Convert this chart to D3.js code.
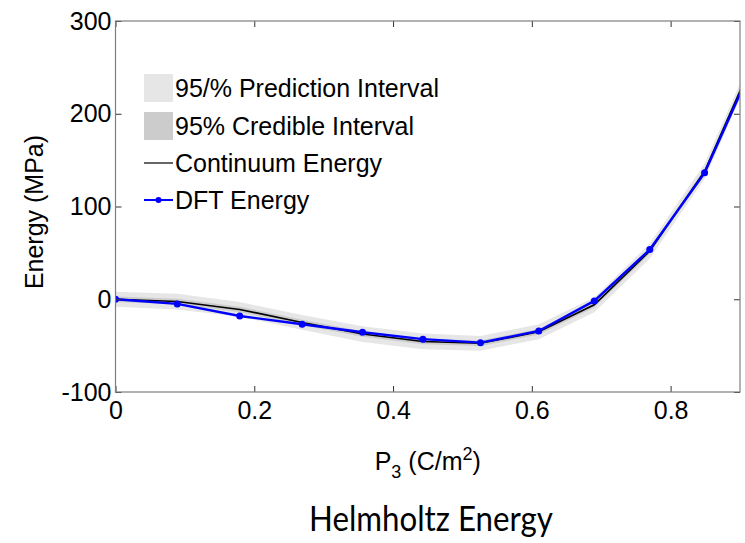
<!DOCTYPE html>
<html><head><meta charset="utf-8">
<script src="https://cdn.jsdelivr.net/npm/d3@7"></script>
<style>body{margin:0;background:#fff}svg{display:block}</style>
</head><body>
<svg id="chart" width="745" height="543"></svg>
<script>
const pVals = [0, 0.089, 0.179, 0.269, 0.356, 0.443, 0.526, 0.610, 0.690, 0.770, 0.849, 0.928];
const dftEnergy = [0, -5, -18, -27, -35.6, -43, -46.8, -34.2, -1.8, 53.6, 136.3, 268];
const continuumEnergy = [0, -2.5, -11, -25, -37.5, -45.5, -47.5, -35, -6, 52, 138, 272];
const predUpper = [8, 6, -3, -17, -29, -37, -39.5, -27, 2, 60, 146, 280];
const predLower = [-8, -11, -19, -33, -46, -54, -55.5, -43, -14, 44, 130, 264];
const credUpper = [3, 0.5, -8, -22, -34.5, -42.5, -44.5, -32, -3, 55, 141, 275];
const credLower = [-3, -5.5, -14, -28, -40.5, -48.5, -50.5, -38, -9, 49, 135, 269];
const xTicks = [0, 0.2, 0.4, 0.6, 0.8];
const yTicks = [-100, 0, 100, 200, 300];
const legendLabels = ["95/% Prediction Interval", "95% Credible Interval", "Continuum Energy", "DFT Energy"];

const svg = d3.select("#chart");
const L = 115.5, R = 740, T = 21, B = 392;
const x = d3.scaleLinear().domain([0, 0.9]).range([L, R]);
const y = d3.scaleLinear().domain([-100, 300]).range([B, T]);
const font = "'Liberation Sans', Arial, Helvetica, sans-serif";
const fs = 25;

svg.append("defs").append("clipPath").attr("id", "clip")
  .append("rect").attr("x", L).attr("y", T).attr("width", R - L).attr("height", B - T);

const g = svg.append("g").attr("clip-path", "url(#clip)");
const idx = d3.range(pVals.length);
const areaPred = d3.area().x(i => x(pVals[i])).y0(i => y(predLower[i])).y1(i => y(predUpper[i]));
const areaCred = d3.area().x(i => x(pVals[i])).y0(i => y(credLower[i])).y1(i => y(credUpper[i]));
g.append("path").attr("d", areaPred(idx)).attr("fill", "#e6e6e6");
g.append("path").attr("d", areaCred(idx)).attr("fill", "#cccccc");
const lineC = d3.line().x(i => x(pVals[i])).y(i => y(continuumEnergy[i]));
const lineD = d3.line().x(i => x(pVals[i])).y(i => y(dftEnergy[i]));
g.append("path").attr("d", lineC(idx)).attr("fill", "none").attr("stroke", "#000").attr("stroke-width", 1.6);
g.append("path").attr("d", lineD(idx)).attr("fill", "none").attr("stroke", "#0000ff").attr("stroke-width", 2.4);
g.selectAll("circle.dft").data(idx).enter().append("circle")
  .attr("cx", i => x(pVals[i])).attr("cy", i => y(dftEnergy[i])).attr("r", 3.5).attr("fill", "#0000ff");

// axes
const axisColor = "#7f7f7f";
function styleAxis(sel) {
  sel.select(".domain").remove();
  sel.selectAll(".tick line").attr("stroke", "#333");
  sel.selectAll(".tick text").attr("font-family", font).attr("font-size", fs).attr("fill", "#000");
}
const xb = svg.append("g").attr("transform", `translate(0,${B})`)
  .call(d3.axisBottom(x).tickValues(xTicks).tickSize(-6).tickPadding(9).tickFormat(d => d === 0 ? "0" : d3.format(".1f")(d)));
styleAxis(xb);
const xt = svg.append("g").attr("transform", `translate(0,${T})`)
  .call(d3.axisTop(x).tickValues(xTicks).tickSize(-6).tickFormat(""));
styleAxis(xt);
const yl = svg.append("g").attr("transform", `translate(${L},0)`)
  .call(d3.axisLeft(y).tickValues(yTicks).tickSize(-6).tickPadding(4).tickFormat(d => String(d)));
styleAxis(yl);
const yr = svg.append("g").attr("transform", `translate(${R},0)`)
  .call(d3.axisRight(y).tickValues(yTicks).tickSize(-6).tickFormat(""));
styleAxis(yr);
svg.append("rect").attr("x", L).attr("y", T).attr("width", R - L).attr("height", B - T)
  .attr("fill", "none").attr("stroke", axisColor).attr("stroke-width", 1.2);

// axis labels
const xl = svg.append("text").attr("x", (L + R) / 2).attr("y", 470).attr("text-anchor", "middle")
  .attr("font-family", font).attr("font-size", fs).attr("fill", "#000");
xl.append("tspan").text("P");
xl.append("tspan").attr("font-size", 18).attr("dy", 8).text("3");
xl.append("tspan").attr("dy", -8).text(" (C/m");
xl.append("tspan").attr("font-size", 18).attr("dy", -10).text("2");
xl.append("tspan").attr("dy", 10).text(")");

svg.append("text").attr("transform", `translate(43,212) rotate(-90)`)
  .attr("text-anchor", "middle").attr("font-family", font).attr("font-size", fs).attr("fill", "#000")
  .text("Energy (MPa)");

// legend
const lg = svg.append("g");
const rowY = [88, 126, 163, 200];
lg.append("rect").attr("x", 144).attr("y", rowY[0] - 14).attr("width", 29).attr("height", 28).attr("fill", "#e6e6e6");
lg.append("rect").attr("x", 144).attr("y", rowY[1] - 14).attr("width", 29).attr("height", 28).attr("fill", "#cccccc");
lg.append("line").attr("x1", 144).attr("x2", 173).attr("y1", rowY[2]).attr("y2", rowY[2]).attr("stroke", "#000").attr("stroke-width", 1.2);
lg.append("line").attr("x1", 144).attr("x2", 173).attr("y1", rowY[3]).attr("y2", rowY[3]).attr("stroke", "#0000ff").attr("stroke-width", 2);
lg.append("circle").attr("cx", 158.5).attr("cy", rowY[3]).attr("r", 3).attr("fill", "#0000ff");
lg.selectAll("text").data(legendLabels).enter().append("text")
  .attr("x", 175).attr("y", (d, i) => rowY[i] + 9).attr("font-family", font).attr("font-size", fs).attr("fill", "#000")
  .text(d => d);

// title
svg.append("text").attr("x", 431).attr("y", 531).attr("text-anchor", "middle")
  .attr("font-family", "Lato, 'Open Sans', sans-serif").attr("font-size", 35).attr("fill", "#000")
  .attr("textLength", 244).attr("lengthAdjust", "spacingAndGlyphs")
  .text("Helmholtz Energy");
</script>
</body></html>
